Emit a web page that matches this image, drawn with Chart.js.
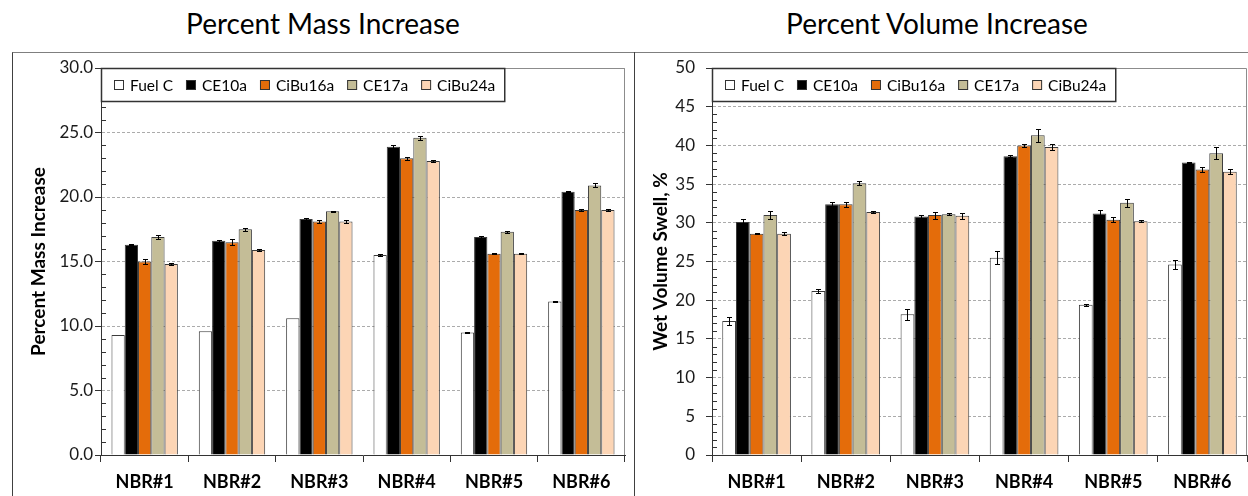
<!DOCTYPE html>
<html>
<head>
<meta charset="utf-8">
<script src="https://cdn.jsdelivr.net/npm/chart.js@4.4.1/dist/chart.umd.min.js"></script>
<style>
    html, body { margin: 0; padding: 0; background: #fff; }
    body { width: 1248px; height: 496px; position: relative; overflow: hidden; font-family: Lato, sans-serif; }
    .frame { position: absolute; left: 12px; top: 52px; width: 1300px; height: 500px; border-top: 1.5px solid #7f7f7f; border-left: 1px solid #404040; }
    .divider { position: absolute; left: 634px; top: 52px; height: 500px; border-left: 1px solid #404040; }
    .panel-title { position: absolute; top: 8px; font-size: 28px; line-height: 30px; color: #000; text-align: center; white-space: nowrap; }
    canvas { position: absolute; top: 0; }
</style>
</head>
<body>
<div class="frame"></div>
<div class="divider"></div>
<div class="panel-title" style="left:12px;width:622px;">Percent Mass Increase</div>
<div class="panel-title" style="left:634px;width:606px;">Percent Volume Increase</div>
<canvas id="mass-chart" width="634" height="496" style="left:0;"></canvas>
<canvas id="volume-chart" width="614" height="496" style="left:634px;"></canvas>
<script>
const categories = ['NBR#1', 'NBR#2', 'NBR#3', 'NBR#4', 'NBR#5', 'NBR#6'];
const seriesNames = ['Fuel C', 'CE10a', 'CiBu16a', 'CE17a', 'CiBu24a'];
const seriesColors = ['#ffffff', '#000000', '#e46c0a', '#c4bd97', '#fcd5b5'];

// percent mass increase
const massFuelC = [9.3, 9.6, 10.6, 15.5, 9.5, 11.9];
const massCE10a = [16.3, 16.6, 18.3, 23.9, 16.9, 20.4];
const massCiBu16a = [15.0, 16.5, 18.1, 23.0, 15.6, 19.0];
const massCE17a = [16.9, 17.5, 18.9, 24.6, 17.3, 20.9];
const massCiBu24a = [14.8, 15.9, 18.1, 22.8, 15.6, 19.0];

const massErrFuelC = [0, 0, 0, 0.05, 0.05, 0.05];
const massErrCE10a = [0.05, 0.1, 0.05, 0.1, 0.05, 0.05];
const massErrCiBu16a = [0.2, 0.25, 0.1, 0.1, 0.05, 0.05];
const massErrCE17a = [0.15, 0.1, 0.05, 0.15, 0.1, 0.15];
const massErrCiBu24a = [0.1, 0.05, 0.1, 0.1, 0.05, 0.05];

// wet volume swell
const volFuelC = [17.3, 21.2, 18.2, 25.5, 19.4, 24.6];
const volCE10a = [30.1, 32.4, 30.8, 38.6, 31.2, 37.8];
const volCiBu16a = [28.6, 32.4, 31.0, 40.0, 30.4, 36.9];
const volCE17a = [31.0, 35.1, 31.1, 41.3, 32.6, 39.0];
const volCiBu24a = [28.6, 31.4, 30.9, 39.8, 30.2, 36.6];

const volErrFuelC = [0.55, 0.3, 0.7, 0.8, 0.15, 0.6];
const volErrCE10a = [0.4, 0.3, 0.15, 0.1, 0.5, 0.05];
const volErrCiBu16a = [0.05, 0.35, 0.45, 0.15, 0.35, 0.3];
const volErrCE17a = [0.5, 0.25, 0.15, 0.8, 0.5, 0.8];
const volErrCiBu24a = [0.15, 0.15, 0.35, 0.4, 0.1, 0.3];

// y axis ranges: [min, max, step]
const massAxis = [0, 30, 5];
const volumeAxis = [0, 50, 5];

const FONT = 'Lato';

// gray frame on top / right of the plot area
const plotFramePlugin = {
    id: 'plotFrame',
    beforeDatasetsDraw(chart) {
        const { ctx, chartArea: a } = chart;
        ctx.save();
        ctx.strokeStyle = '#8c8c8c';
        ctx.lineWidth = 1;
        ctx.beginPath();
        ctx.moveTo(a.left, a.top + 0.5);
        ctx.lineTo(a.right - 0.5, a.top + 0.5);
        ctx.lineTo(a.right - 0.5, a.bottom);
        ctx.stroke();
        ctx.restore();
    }
};

// small inside ticks every 1 unit
const minorTicksPlugin = {
    id: 'minorTicks',
    beforeDatasetsDraw(chart) {
        const { ctx, chartArea: a } = chart;
        const y = chart.scales.y;
        ctx.save();
        ctx.strokeStyle = '#333';
        ctx.lineWidth = 1;
        ctx.beginPath();
        for (let v = y.min; v <= y.max; v++) {
            if (v % 5 === 0) continue;
            const py = Math.round(y.getPixelForValue(v)) + 0.5;
            ctx.moveTo(a.left, py);
            ctx.lineTo(a.left + 5, py);
        }
        ctx.stroke();
        ctx.restore();
    }
};

const errorBarsPlugin = {
    id: 'errorBars',
    afterDatasetsDraw(chart) {
        const { ctx } = chart;
        const y = chart.scales.y;
        ctx.save();
        ctx.strokeStyle = '#000';
        ctx.lineWidth = 1;
        chart.data.datasets.forEach((ds, i) => {
            const meta = chart.getDatasetMeta(i);
            meta.data.forEach((bar, j) => {
                const err = ds.errorBars[j];
                if (!err) return;
                const x = Math.round(bar.x) + 0.5;
                const top = Math.round(y.getPixelForValue(ds.data[j] + err)) + 0.5;
                const bottom = Math.round(y.getPixelForValue(ds.data[j] - err)) + 0.5;
                ctx.beginPath();
                ctx.moveTo(x, top);
                ctx.lineTo(x, bottom);
                ctx.moveTo(x - 2.5, top);
                ctx.lineTo(x + 2.5, top);
                ctx.moveTo(x - 2.5, bottom);
                ctx.lineTo(x + 2.5, bottom);
                ctx.stroke();
            });
        });
        ctx.restore();
    }
};

// boxed legend sitting in the top-left corner of the plot
const boxLegendPlugin = {
    id: 'boxLegend',
    afterDraw(chart) {
        const { ctx, chartArea: a } = chart;
        ctx.save();
        ctx.font = `15.5px ${FONT}`;
        const items = chart.data.datasets.map(ds => ({ text: ds.label, color: ds.backgroundColor, w: ctx.measureText(ds.label).width }));
        const width = 13 + items.reduce((s, it) => s + 10 + 6 + it.w + 13, 0) - 4;
        const height = 33;
        ctx.fillStyle = '#fff';
        ctx.fillRect(a.left, a.top, width, height);
        ctx.strokeStyle = '#333';
        ctx.lineWidth = 1.5;
        ctx.strokeRect(a.left + 0.5, a.top + 0.5, width, height);
        let x = a.left + 13;
        const cy = a.top + 17;
        ctx.textBaseline = 'middle';
        items.forEach(it => {
            ctx.fillStyle = it.color;
            ctx.fillRect(x, cy - 5, 10, 10);
            ctx.strokeStyle = '#333';
            ctx.lineWidth = 1;
            ctx.strokeRect(x + 0.5, cy - 4.5, 9, 9);
            ctx.fillStyle = '#000';
            ctx.fillText(it.text, x + 16, cy + 1);
            x += 10 + 6 + it.w + 13;
        });
        ctx.restore();
    }
};

function buildBarChart(canvasId, values, errors, axis, opts) {
    const datasets = seriesNames.map((name, i) => ({
        label: name,
        data: values[i],
        errorBars: errors[i],
        backgroundColor: seriesColors[i],
        borderColor: '#3c3c3c',
        borderWidth: 1,
        barPercentage: 1,
        categoryPercentage: opts.catPct
    }));

    return new Chart(canvasId, {
        type: 'bar',
        data: { labels: categories, datasets: datasets },
        options: {
            responsive: false,
            animation: false,
            layout: { padding: opts.padding },
            plugins: {
                legend: { display: false },
                tooltip: { enabled: false }
            },
            scales: {
                x: {
                    ticks: { font: { family: FONT, size: 18, weight: 'bold' }, color: '#000', padding: 9 },
                    grid: { offset: true, drawOnChartArea: false, drawTicks: true, tickLength: 7, tickColor: '#333' },
                    border: { color: '#333', width: 1 },
                    afterFit(scale) {
                        scale.height = 41;
                        scale.paddingLeft = 0;
                        scale.paddingRight = 0;
                    }
                },
                y: {
                    min: axis[0],
                    max: axis[1],
                    ticks: {
                        stepSize: axis[2],
                        callback: v => v.toFixed(opts.decimals),
                        font: { family: FONT, size: 17 },
                        color: '#1a1a1a',
                        padding: opts.tickPad
                    },
                    grid: {
                        color: c => (c.tick && c.tick.value === 0) ? 'rgba(0,0,0,0)' : '#ababab',
                        tickColor: '#333',
                        tickLength: 6
                    },
                    border: { color: '#333', width: 1, dash: [3, 2] },
                    title: {
                        display: true,
                        text: opts.yTitle,
                        font: { family: FONT, size: 19, weight: 'bold' },
                        color: '#000',
                        padding: { top: 0, bottom: 0 }
                    },
                    afterFit(scale) {
                        scale.width = opts.axisWidth;
                        scale.paddingTop = 0;
                        scale.paddingBottom = 0;
                    }
                }
            }
        },
        plugins: [plotFramePlugin, minorTicksPlugin, errorBarsPlugin, boxLegendPlugin]
    });
}

buildBarChart('mass-chart',
    [massFuelC, massCE10a, massCiBu16a, massCE17a, massCiBu24a],
    [massErrFuelC, massErrCE10a, massErrCiBu16a, massErrCE17a, massErrCiBu24a],
    massAxis,
    { yTitle: 'Percent Mass Increase', decimals: 1, tickPad: 2, axisWidth: 74, catPct: 0.76,
      padding: { left: 27, right: 9, top: 68, bottom: 0 } });

buildBarChart('volume-chart',
    [volFuelC, volCE10a, volCiBu16a, volCE17a, volCiBu24a],
    [volErrFuelC, volErrCE10a, volErrCiBu16a, volErrCE17a, volErrCiBu24a],
    volumeAxis,
    { yTitle: 'Wet Volume Swell, %', decimals: 0, tickPad: 11, axisWidth: 63, catPct: 0.77,
      padding: { left: 15, right: 1, top: 68, bottom: 0 } });
</script>
</body>
</html>
